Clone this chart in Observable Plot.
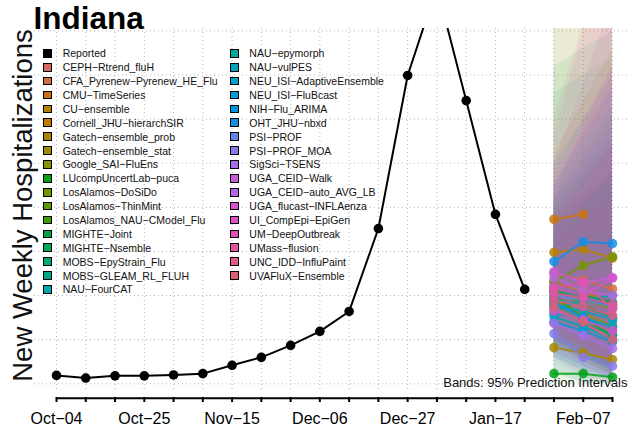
<!DOCTYPE html>
<html><head><meta charset="utf-8">
<script src="https://cdn.jsdelivr.net/npm/d3@7"></script>
<script src="https://cdn.jsdelivr.net/npm/@observablehq/plot@0.6"></script>
<style>
body{margin:0;background:#fff;font-family:"Liberation Sans",Arial,sans-serif;}
#wrap{position:relative;width:629px;height:429px;}
#legend{position:absolute;left:43.3px;top:46.4px;font-size:10.5px;color:#111;}
.col{position:absolute;top:0;white-space:nowrap}
.item{height:13.9px;display:flex;align-items:center}
.sw{width:6.7px;height:6.7px;border:1px solid #000;margin-right:10.7px;flex:none}
</style></head><body><div id="wrap"></div>
<script>
// ---- data ----
const reportedDates = ["2025-10-04","2025-10-11","2025-10-18","2025-10-25","2025-11-01","2025-11-08","2025-11-15","2025-11-22","2025-11-29","2025-12-06","2025-12-13","2025-12-20","2025-12-27","2026-01-03","2026-01-10","2026-01-17","2026-01-24"];
const reportedValues = [19,13,18,18,20,23,42,60,87,119,164,352,699,900,642,384,214];
const models = ["CEPH\u2212Rtrend_fluH","CFA_Pyrenew\u2212Pyrenew_HE_Flu","CMU\u2212TimeSeries","CU\u2212ensemble","Cornell_JHU\u2212hierarchSIR","Gatech\u2212ensemble_prob","Gatech\u2212ensemble_stat","Google_SAI\u2212FluEns","LUcompUncertLab\u2212puca","LosAlamos\u2212DoSiDo","LosAlamos\u2212ThinMint","LosAlamos_NAU\u2212CModel_Flu","MIGHTE\u2212Joint","MIGHTE\u2212Nsemble","MOBS\u2212EpyStrain_Flu","MOBS\u2212GLEAM_RL_FLUH","NAU\u2212FourCAT","NAU\u2212epymorph","NAU\u2212vulPES","NEU_ISI\u2212AdaptiveEnsemble","NEU_ISI\u2212FluBcast","NIH\u2212Flu_ARIMA","OHT_JHU\u2212nbxd","PSI\u2212PROF","PSI\u2212PROF_MOA","SigSci\u2212TSENS","UGA_CEID\u2212Walk","UGA_CEID\u2212auto_AVG_LB","UGA_flucast\u2212INFLAenza","UI_CompEpi\u2212EpiGen","UM\u2212DeepOutbreak","UMass\u2212flusion","UNC_IDD\u2212InfluPaint","UVAFluX\u2212Ensemble"];
const forecastDates = ["2026-01-31","2026-02-07","2026-02-14"];
const fcMedian = [[200,170,140],[250,235,215],[373,384,null],[298,305,285],[230,210,180],[82,70,55],[190,160,130],[210,190,170],[23,23,15],[232,268,288],[215,180,150],[200,150,110],[220,200,185],[210,195,175],[180,140,110],[195,175,150],[152,130,100],[170,190,200],[160,150,130],[175,165,145],[140,120,95],[185,150,120],[277,322,318],[200,190,175],[114,60,40],[137,110,80],[254,230,240],[240,210,200],[220,200,240],[165,145,120],[216,230,170],[205,195,180],[190,175,155],[175,140,100]];
const fcLower = [[120,70,30],[150,110,70],[250,220,190],[200,170,130],[140,90,50],[20,5,0],[90,50,20],[100,60,30],[0,0,0],[150,140,130],[130,80,40],[110,60,20],[100,60,30],[90,50,20],[110,60,30],[100,60,30],[60,30,10],[80,60,40],[70,40,10],[90,60,30],[60,30,10],[30,0,0],[150,150,130],[100,70,40],[50,15,5],[70,40,10],[130,80,50],[120,70,40],[100,70,50],[80,40,10],[100,90,40],[110,70,40],[60,20,0],[90,50,20]];
const fcUpper = [[320,380,440],[400,480,560],[520,640,760],[420,480,540],[360,420,480],[850,1000,1150],[430,520,610],[830,950,1050],[150,200,250],[330,400,470],[340,390,440],[380,430,480],[720,760,800],[660,700,740],[300,330,360],[360,410,460],[400,470,540],[450,560,670],[420,500,580],[380,460,540],[350,410,470],[500,600,700],[450,540,630],[420,510,600],[300,260,240],[320,370,420],[480,600,720],[460,570,680],[560,800,1050],[360,450,540],[500,680,870],[440,580,720],[600,820,1050],[380,460,540]];
const labelDates = ["2025-10-04","2025-10-25","2025-11-15","2025-12-06","2025-12-27","2026-01-17","2026-02-07"];
const gridValues = [0,100,200,300,400,500,600,700,800];

// ---- colours: R-style polar LUV hue ramp ----
function hclLuv(h, c, l) {
  const Xn = 95.047, Yn = 100, Zn = 108.883;
  const hr = h * Math.PI / 180;
  const U = c * Math.cos(hr), V = c * Math.sin(hr);
  const Y = Yn * (l > 7.999592 ? Math.pow((l + 16) / 116, 3) : l / 903.3);
  const den = Xn + 15 * Yn + 3 * Zn;
  const un = 4 * Xn / den, vn = 9 * Yn / den;
  const up = U / (13 * l) + un, vp = V / (13 * l) + vn;
  const X = 9 * Y * up / (4 * vp);
  const Z = -X / 3 - 5 * Y + 3 * Y / vp;
  const x = X / 100, y = Y / 100, z = Z / 100;
  const r = 3.240479 * x - 1.537150 * y - 0.498535 * z;
  const g = -0.969256 * x + 1.875992 * y + 0.041556 * z;
  const b = 0.055648 * x - 0.204043 * y + 1.057311 * z;
  const gam = v => { v = Math.max(0, Math.min(1, v)); return v <= 0.0031308 ? 12.92 * v : 1.055 * Math.pow(v, 1 / 2.4) - 0.055; };
  return d3.rgb(gam(r) * 255, gam(g) * 255, gam(b) * 255).formatHex();
}
const collated = models.slice().sort((a, b) => a.localeCompare(b, "en", {sensitivity: "base", ignorePunctuation: true}));
const palette = models.map(m => hclLuv(15 + collated.indexOf(m) * 360 / models.length, 90, 57));

// ---- build ----
const parse = d3.utcParse("%Y-%m-%d");
const reported = reportedDates.map((d, i) => ({date: parse(d), value: reportedValues[i]}));
const fc = [];
models.forEach((m, i) => forecastDates.forEach((d, h) => fc.push({model: m, date: parse(d), median: fcMedian[i][h], lo: fcLower[i][h], hi: fcUpper[i][h]})));
const fcPts = fc.filter(d => d.median != null);
const start = parse(reportedDates[0]);
const end = parse(forecastDates[forecastDates.length - 1]);
const weekly = d3.utcSaturday.range(start, d3.utcDay.offset(end, 1));
const labelTicks = labelDates.map(parse);
const fmt = d => d3.utcFormat("%b")(d) + "\u2212" + d3.utcFormat("%d")(d);
const gridStyle = {stroke: "#b5b5b5", strokeOpacity: 1, strokeDasharray: "1,3", strokeWidth: 1};

const chart = Plot.plot({
  width: 629, height: 429,
  marginTop: 28, marginBottom: 37, marginLeft: 34, marginRight: 0,
  style: {fontFamily: "'Liberation Sans', Arial, sans-serif", background: "white", overflow: "visible"},
  x: {type: "utc", domain: [start, end], range: [56, 612], axis: null},
  y: {domain: [0, 800], range: [383.3, 30.4], axis: null},
  color: {domain: models, range: palette},
  marks: [
    Plot.gridY(gridValues, gridStyle),
    Plot.gridX(weekly, gridStyle),
    Plot.areaY(fc, {x: "date", y1: "lo", y2: "hi", z: "model", fill: "model", fillOpacity: 0.09, clip: true}),
    Plot.line(fcPts, {x: "date", y: "median", z: "model", stroke: "model", strokeWidth: 2, strokeOpacity: 0.85, clip: true}),
    Plot.dot(fcPts, {x: "date", y: "median", fill: "model", r: 4.8, fillOpacity: 0.85, clip: true}),
    Plot.line(reported, {x: "date", y: "value", stroke: "black", strokeWidth: 2, clip: true}),
    Plot.dot(reported, {x: "date", y: "value", fill: "black", r: 4.8, clip: true}),
    Plot.ruleY([{y: 0, x1: start, x2: end}], {y: "y", x1: "x1", x2: "x2", dy: 14.5, stroke: "black", strokeWidth: 2}),
    Plot.axisX(weekly, {tickFormat: () => "", tickSize: 5, dy: 5, strokeWidth: 2, stroke: "black"}),
    Plot.axisX(labelTicks, {tickSize: 0, tickPadding: 20, tickFormat: fmt, fontSize: 16, fill: "black"}),
    Plot.text(["Bands: 95% Prediction Intervals"], {frameAnchor: "bottom-right", textAnchor: "end", lineAnchor: "bottom", dx: -2, dy: -6, fontSize: 13, fill: "#111"}),
    Plot.text(["Indiana"], {frameAnchor: "top-left", textAnchor: "start", lineAnchor: "bottom", dx: -1, dy: 0, fontSize: 31.5, fontWeight: "bold", fill: "black"}),
    Plot.text(["New Weekly Hospitalizations"], {frameAnchor: "left", textAnchor: "middle", lineAnchor: "bottom", rotate: -90, dx: -3, dy: -5, fontSize: 27.5, fill: "#111"})
  ]
});
const wrap = document.getElementById("wrap");
wrap.appendChild(chart);

// legend (HTML)
const legend = document.createElement("div");
legend.id = "legend";
const entries = [{name: "Reported", color: "#000"}].concat(models.map((m, i) => ({name: m, color: palette[i]})));
const perCol = 18;
[entries.slice(0, perCol), entries.slice(perCol)].forEach((col, c) => {
  const div = document.createElement("div");
  div.className = "col";
  div.style.left = (c * 186.7) + "px";
  col.forEach(e => {
    const it = document.createElement("div"); it.className = "item";
    const sw = document.createElement("span"); sw.className = "sw"; sw.style.background = e.color;
    const tx = document.createElement("span"); tx.textContent = e.name;
    it.appendChild(sw); it.appendChild(tx); div.appendChild(it);
  });
  legend.appendChild(div);
});
wrap.appendChild(legend);
</script></body></html>
